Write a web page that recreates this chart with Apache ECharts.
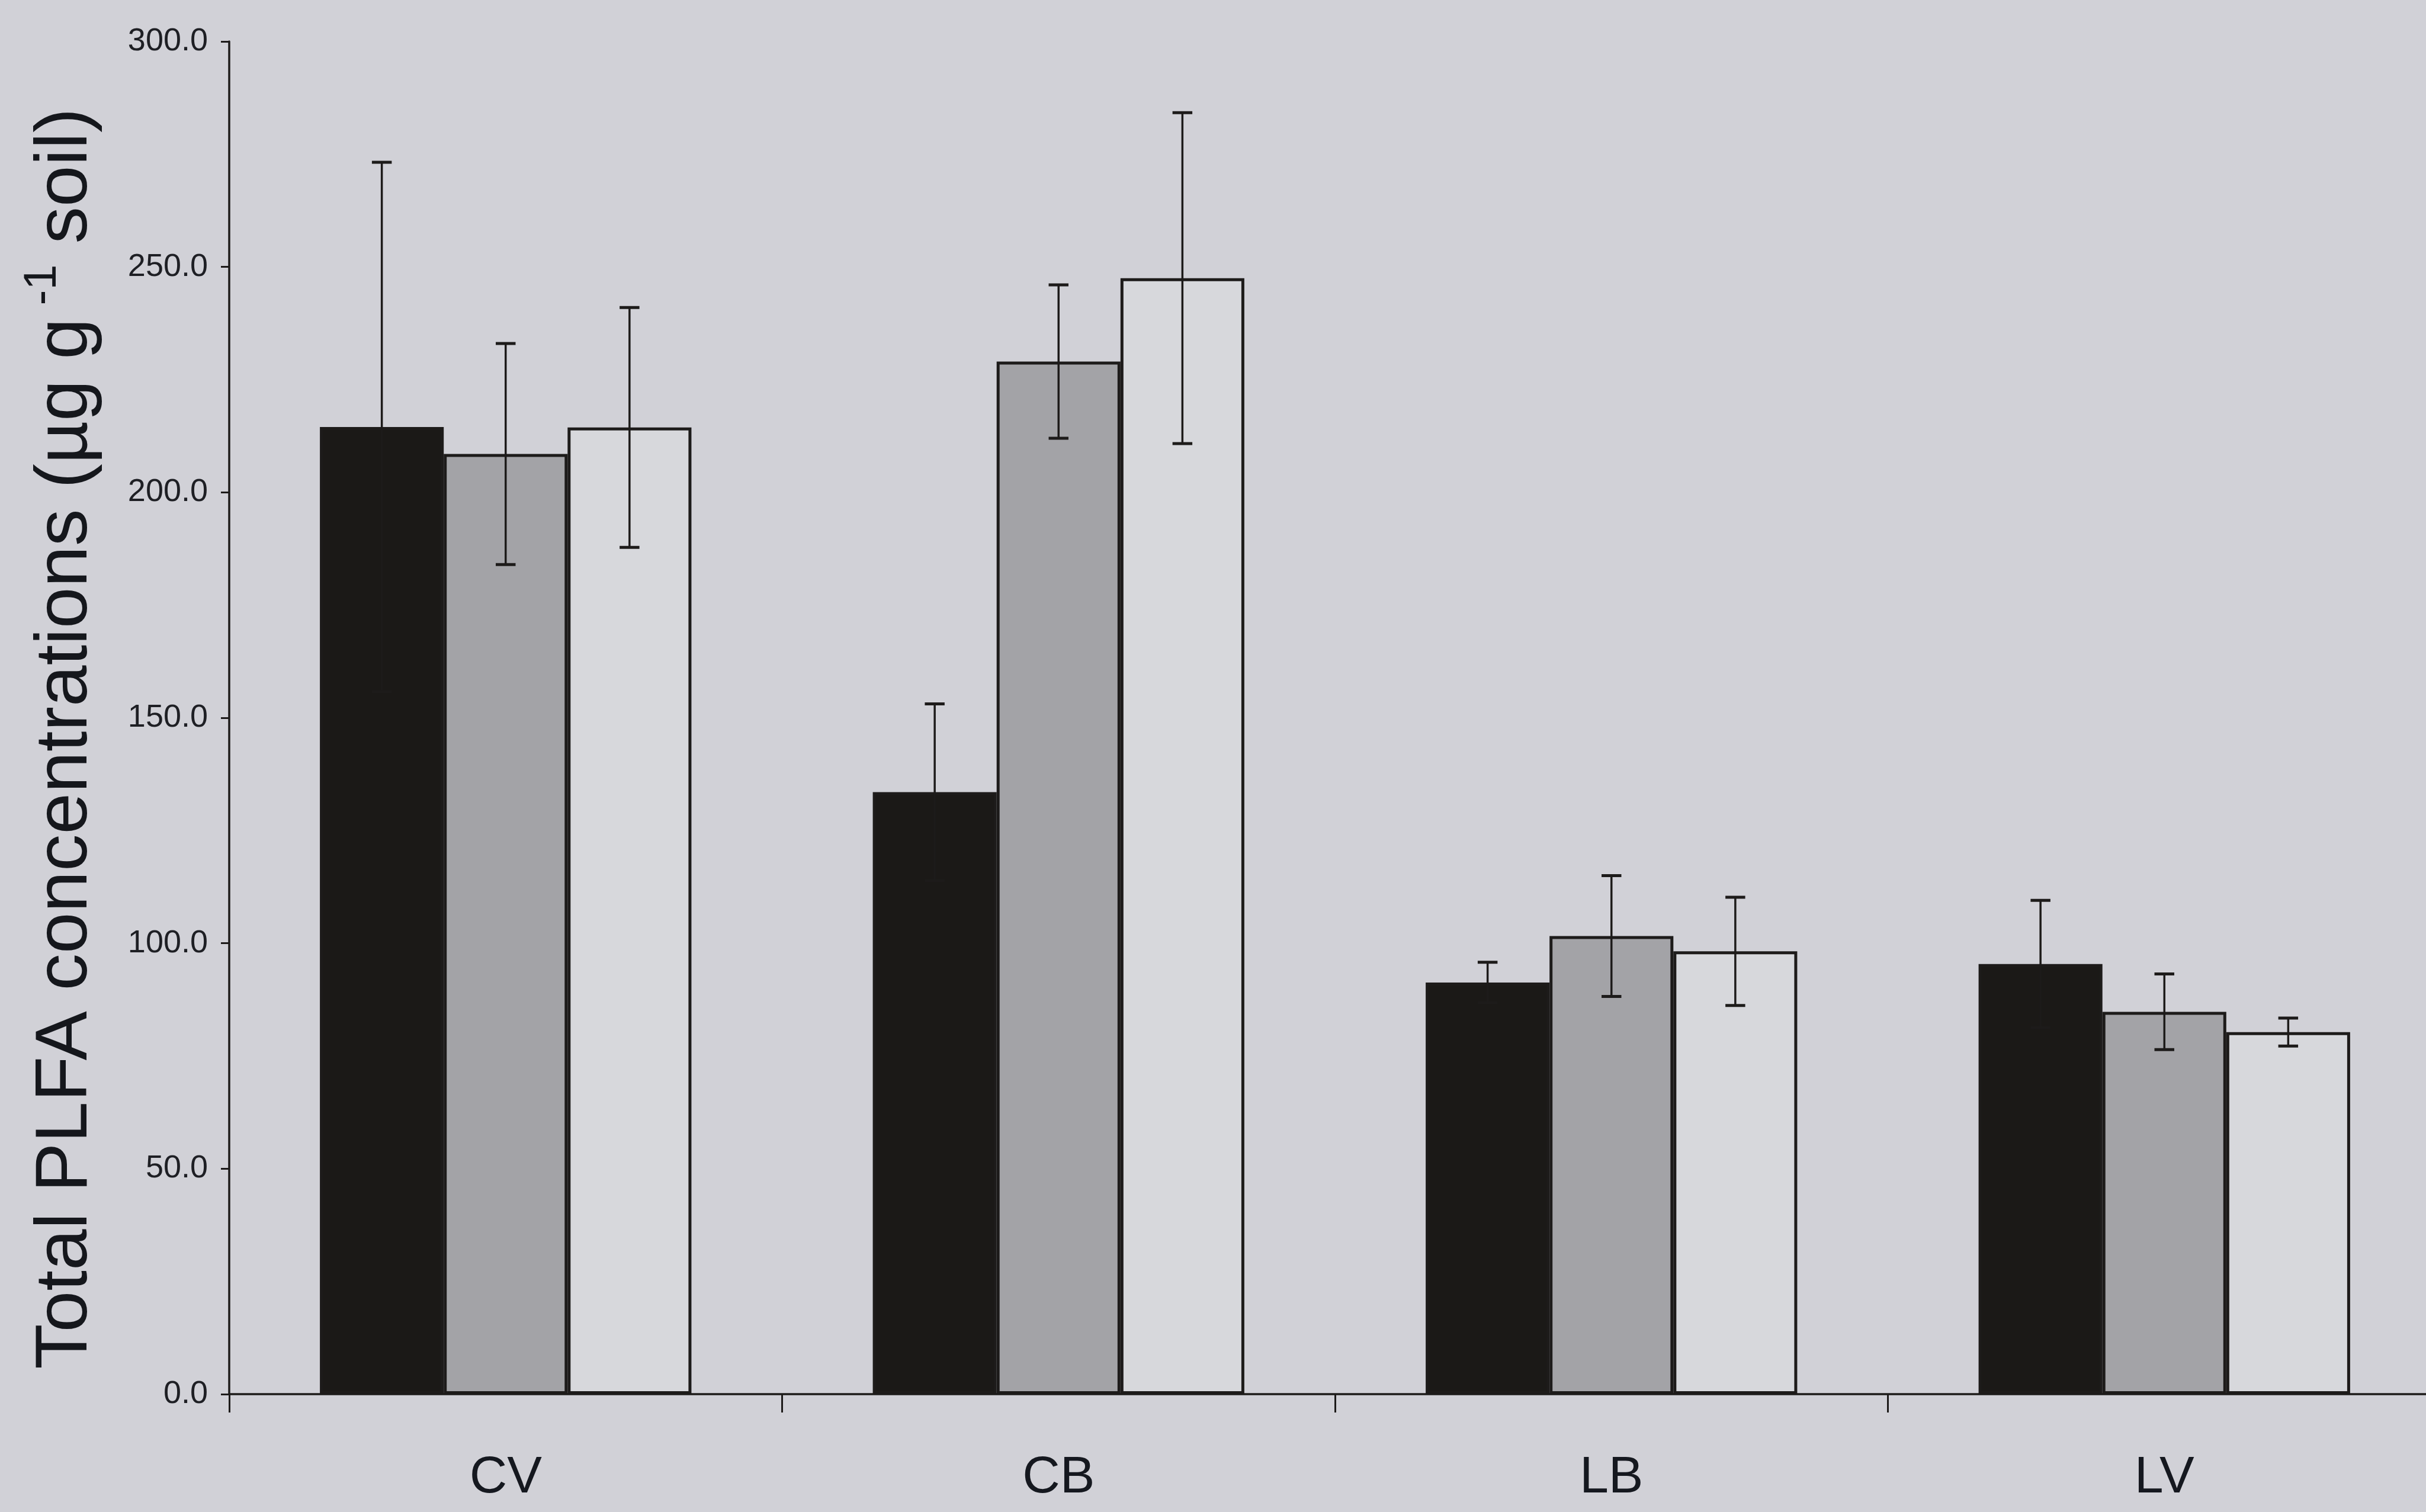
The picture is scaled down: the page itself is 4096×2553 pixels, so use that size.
<!DOCTYPE html>
<html>
<head>
<meta charset="utf-8">
<title>Total PLFA concentrations</title>
<script src="https://cdn.jsdelivr.net/npm/echarts@6/dist/echarts.min.js"></script>
<style>
  html, body { margin: 0; padding: 0; background: #d1d1d7; overflow: hidden; }
  #chart { width: 4096px; height: 2553px; }
</style>
</head>
<body>
<div id="chart"></div>
<script>
// Sites on the x axis
const categories = ['CV', 'CB', 'LB', 'LV'];

// Mean total PLFA (µg g-1 soil) for the three treatments, per site
const meanBlack = [214.5, 133.5, 91.3, 95.4];
const meanGray  = [208.5, 229.0, 101.6, 84.8];
const meanWhite = [214.4, 247.5, 98.2, 80.3];

// Standard errors drawn as whiskers
const errBlack = [58.7, 19.6, 4.5, 14.1];
const errGray  = [24.5, 17.0, 13.4, 8.4];
const errWhite = [26.6, 36.7, 12.0, 3.1];

// Y axis ticks
const yMin = 0, yMax = 300, yStep = 50;

const FONT = '"Liberation Sans", Arial, sans-serif';
const INK = '#1d1b1a';
const GAP = 0.328;          // fraction of each category band left empty
const NSER = 3;

const chart = echarts.init(document.getElementById('chart'), null, { renderer: 'canvas' });

function errorSeries(means, errs, idx) {
  return {
    type: 'custom',
    z: 10,
    silent: true,
    data: means.map((m, i) => [i, m - errs[i], m + errs[i]]),
    renderItem: function (params, api) {
      const cat = api.value(0);
      const band = api.size([1, 0])[0];
      const bw = band * (1 - GAP) / NSER;
      const lo = api.coord([cat, api.value(1)]);
      const hi = api.coord([cat, api.value(2)]);
      const x = lo[0] + (idx - (NSER - 1) / 2) * bw;
      const cap = bw * 0.16;
      const st = { stroke: INK, lineWidth: 3.5 };
      const capSt = { stroke: INK, lineWidth: 5 };
      return {
        type: 'group',
        children: [
          { type: 'line', shape: { x1: x, y1: lo[1], x2: x, y2: hi[1] }, style: st },
          { type: 'line', shape: { x1: x - cap / 2, y1: hi[1], x2: x + cap / 2, y2: hi[1] }, style: capSt },
          { type: 'line', shape: { x1: x - cap / 2, y1: lo[1], x2: x + cap / 2, y2: lo[1] }, style: capSt }
        ]
      };
    }
  };
}

function barSeries(name, data, fill) {
  return {
    name: name,
    type: 'bar',
    data: data,
    barGap: '0%',
    barCategoryGap: (GAP * 100) + '%',
    itemStyle: { color: fill, borderColor: INK, borderWidth: 5 },
    silent: true
  };
}

const option = {
  backgroundColor: '#d1d1d7',
  animation: false,
  // the plot runs slightly past the right edge of the page
  grid: {
    left: 387, width: 3734, top: 70, bottom: 199,
    containLabel: false, outerBoundsMode: 'none'
  },
  xAxis: {
    type: 'category',
    data: categories,
    axisLine: { lineStyle: { color: INK, width: 3.5 } },
    axisTick: { show: true, length: 31, lineStyle: { color: INK, width: 3 } },
    axisLabel: { fontFamily: FONT, fontSize: 88, color: '#15181f', margin: 98 },
    splitLine: { show: false }
  },
  yAxis: {
    type: 'value',
    min: yMin,
    max: yMax,
    interval: yStep,
    axisLine: { show: true, lineStyle: { color: INK, width: 3.5 } },
    axisTick: { show: true, length: 14, lineStyle: { color: INK, width: 3 } },
    axisLabel: {
      fontFamily: FONT, fontSize: 54, color: '#1e1f24', margin: 36,
      formatter: v => v.toFixed(1)
    },
    splitLine: { show: false }
  },
  graphic: [{
    type: 'text',
    x: 112,
    y: 1247,
    rotation: Math.PI / 2,
    style: {
      text: '{a|Total PLFA concentrations (µg g}{s| -1}{a| soil)}',
      align: 'center',
      verticalAlign: 'middle',
      rich: {
        a: { fontFamily: FONT, fontSize: 125, fill: '#15171c', lineHeight: 158, verticalAlign: 'middle' },
        s: { fontFamily: FONT, fontSize: 78, fill: '#15171c', lineHeight: 158, verticalAlign: 'top' }
      }
    }
  }],
  series: [
    barSeries('A', meanBlack, '#1b1917'),
    barSeries('B', meanGray, '#a3a3a7'),
    barSeries('C', meanWhite, '#d7d8dc'),
    errorSeries(meanBlack, errBlack, 0),
    errorSeries(meanGray, errGray, 1),
    errorSeries(meanWhite, errWhite, 2)
  ]
};

chart.setOption(option);
</script>
</body>
</html>
